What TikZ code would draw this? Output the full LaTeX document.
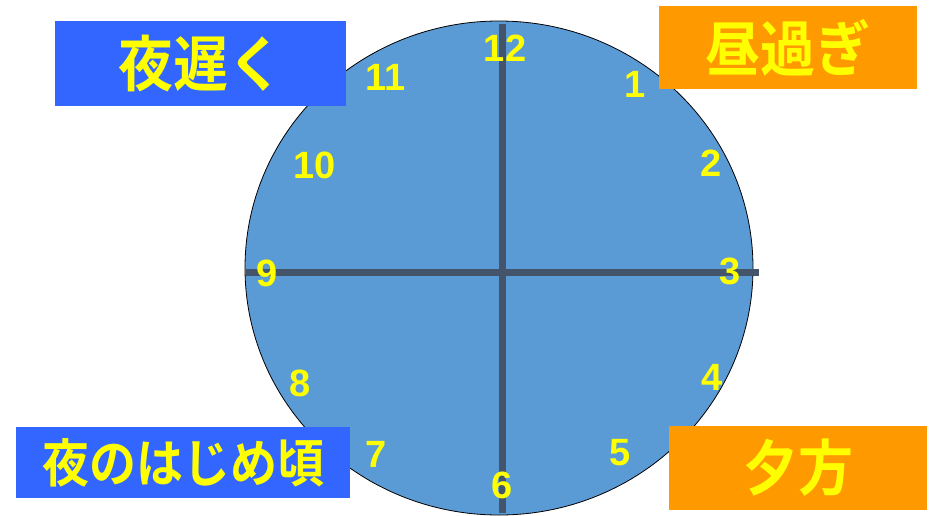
\documentclass[tikz,border=0pt]{standalone}
\usepackage{fontspec}
\setmainfont{Liberation Sans}
\newfontfamily\jpfont{Noto Sans CJK JP}[BoldFont={Noto Sans CJK JP Bold}]
\definecolor{facec}{HTML}{5B9BD5}
\definecolor{handc}{HTML}{44546A}
\definecolor{boxblue}{HTML}{3366FF}
\definecolor{boxorange}{HTML}{FF9900}
\definecolor{txtyellow}{HTML}{FFFF00}
\newcommand{\tallj}[1]{\scalebox{1}[1.1]{#1}}
\tikzset{
  hand/.style={draw=handc,line width=7pt},
  num/.style={text=txtyellow,font=\bfseries\fontsize{38}{38}\selectfont,inner sep=0pt},
  bluebox/.style={fill=boxblue,text=txtyellow,inner sep=0pt},
  orangebox/.style={fill=boxorange,text=txtyellow,inner sep=0pt},
  bigjp/.style={font=\jpfont\bfseries\fontsize{55}{55}\selectfont},
}
\begin{document}
\begin{tikzpicture}[x=1pt,y=-1pt]
\useasboundingbox (0,0) rectangle (933,515);
% clock face
\draw[fill=facec,draw=black,line width=0.8pt] (499,268) ellipse [x radius=254,y radius=247];
% hands
\coordinate (vtop) at (502.5,24);
\coordinate (vbot) at (502.5,513);
\coordinate (hl) at (246,272.5);
\coordinate (hr) at (759,272.5);
\draw[hand] (vtop) -- (vbot);
\draw[hand] (hl) -- (hr);
% numbers
\node[num] (n12) at (505,48) {12};
\node[num] (n11) at (386,77) {11};
\node[num] (n1) at (635,84) {1};
\node[num] (n10) at (315,165) {10};
\node[num] (n2) at (711,163) {2};
\node[num] (n9) at (267,273) {9};
\node[num] (n3) at (730,271) {3};
\node[num] (n8) at (300,383) {8};
\node[num] (n4) at (712,377) {4};
\node[num] (n7) at (376,454) {7};
\node[num] (n5) at (620,453) {5};
\node[num] (n6) at (502,485) {6};
% label boxes
\node[bluebox,minimum width=291pt,minimum height=85pt,bigjp] (late) at (200.5,63.5) {\tallj{夜遅く}};
\node[orangebox,minimum width=258pt,minimum height=83pt,bigjp] (noon) at (788,47.5) {\tallj{昼過ぎ}};
\node[bluebox,minimum width=334pt,minimum height=71pt,font=\jpfont\bfseries\fontsize{47}{47}\selectfont] (early) at (183,462.5) {\tallj{夜のはじめ頃}};
\node[orangebox,minimum width=258pt,minimum height=84pt,bigjp] (eve) at (798,468) {\tallj{夕方}};
\end{tikzpicture}
\end{document}
